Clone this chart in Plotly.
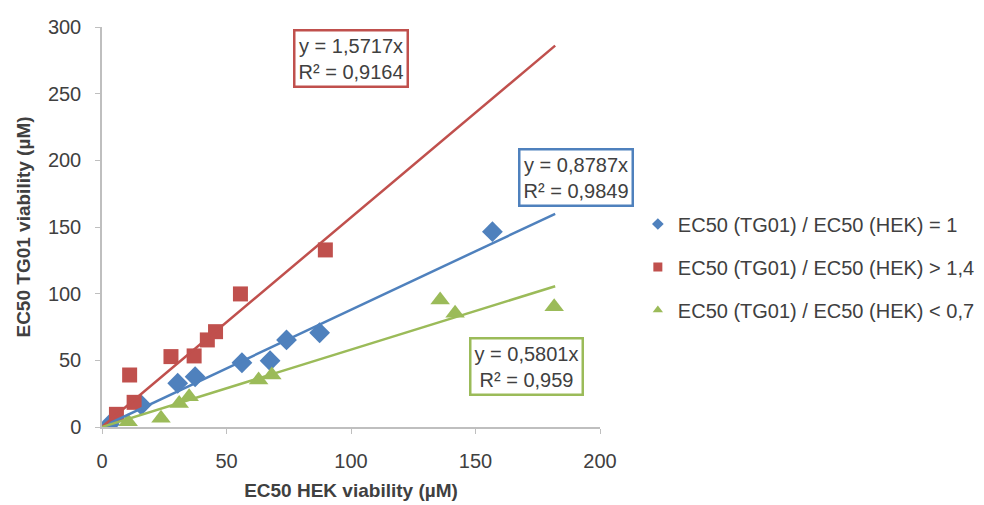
import plotly.graph_objects as go

# Data
blue_x = [3, 15.8, 30.4, 37.4, 56.2, 67.5, 74.1, 87.4, 156.8]
blue_y = [2, 16.5, 32.8, 37.7, 48.2, 49.7, 65.3, 70.7, 146.5]
red_x = [5.8, 11.1, 12.9, 27.7, 37.0, 42.3, 45.6, 55.6, 89.7]
red_y = [9.5, 39.0, 18.5, 52.8, 53.3, 65.3, 71.5, 99.8, 132.8]
green_x = [10.5, 23.7, 31.0, 35.0, 62.9, 68.2, 135.8, 141.8, 181.6]
green_y = [4.0, 6.5, 17.7, 22.7, 35.2, 39.0, 95.3, 85.3, 90.2]

slopes = {"blue": 0.8787, "red": 1.5717, "green": 0.5801}
r2 = {"blue": "0,9849", "red": "0,9164", "green": "0,959"}
slope_txt = {"blue": "0,8787", "red": "1,5717", "green": "0,5801"}
names = {"blue": "EC50 (TG01) / EC50 (HEK) = 1",
         "red": "EC50 (TG01) / EC50 (HEK) > 1,4",
         "green": "EC50 (TG01) / EC50 (HEK) < 0,7"}
trend_x = [0, 182]

colors = {"blue": "#4F81BD", "red": "#C0504D", "green": "#9BBB59"}
symbols = {"blue": "diamond", "red": "square", "green": "triangle-up"}
msize = {"blue": 16, "red": 15, "green": 17}
data = {"blue": (blue_x, blue_y), "red": (red_x, red_y), "green": (green_x, green_y)}

font = "Liberation Sans"
txtcol = "#404040"
fig = go.Figure()

for k in ["blue", "red", "green"]:
    xs, ys = data[k]
    fig.add_trace(go.Scatter(x=xs, y=ys, mode="markers", showlegend=False,
                             marker=dict(symbol=symbols[k], size=msize[k], color=colors[k])))
for k in ["blue", "red", "green"]:
    fig.add_trace(go.Scatter(x=trend_x, y=[slopes[k] * v for v in trend_x], mode="lines",
                             showlegend=False, line=dict(color=colors[k], width=2.5)))
for k in ["blue", "red", "green"]:
    fig.add_trace(go.Scatter(x=[None], y=[None], mode="markers", name=names[k],
                             legendgroup=k,
                             marker=dict(symbol=symbols[k], size=9, color=colors[k])))

# annotation box centres (page pixels) converted to plot fractions
ann_pos = {"red": (354, 59), "blue": (581, 178), "green": (531, 366)}
for k, (px, py) in ann_pos.items():
    fig.add_annotation(
        x=(px - 102) / 503, y=(427 - py) / 400, xref="paper", yref="paper",
        xanchor="center", yanchor="middle",
        text=f"y = {slope_txt[k]}x<br>R² = {r2[k]}", showarrow=False,
        font=dict(family=font, size=20, color=txtcol),
        bordercolor=colors[k], borderwidth=2.5, borderpad=3, bgcolor="white",
        align="center")

fig.update_layout(
    width=984, height=505,
    margin=dict(l=94, r=387, t=19, b=86),
    paper_bgcolor="white", plot_bgcolor="white",
    font=dict(family=font, color=txtcol),
    legend=dict(x=1.076, y=0.40, xanchor="left", yanchor="middle",
                font=dict(family=font, size=20, color=txtcol),
                itemsizing="trace", tracegroupgap=14, bgcolor="rgba(0,0,0,0)"),
)
fig.update_xaxes(range=[0, 200], tickvals=[0, 50, 100, 150, 200], automargin=False,
                 showgrid=False, zeroline=False, showline=True, linecolor="#BFBFBF",
                 linewidth=1.5, ticks="outside", ticklen=5, tickcolor="#BFBFBF",
                 ticklabelstandoff=10,
                 tickfont=dict(family=font, size=20, color=txtcol),
                 title=dict(text="<b>EC50 HEK viability (µM)</b>", standoff=13,
                            font=dict(family=font, size=19, color=txtcol)))
fig.update_yaxes(range=[0, 300], tickvals=[0, 50, 100, 150, 200, 250, 300], automargin=False,
                 showgrid=False, zeroline=False, showline=True, linecolor="#BFBFBF",
                 linewidth=1.5, ticks="outside", ticklen=5, tickcolor="#BFBFBF",
                 ticklabelstandoff=10,
                 tickfont=dict(family=font, size=20, color=txtcol),
                 title=dict(text="<b>EC50 TG01 viability (µM)</b>", standoff=12,
                            font=dict(family=font, size=19, color=txtcol)))

fig.write_html("out.html")
